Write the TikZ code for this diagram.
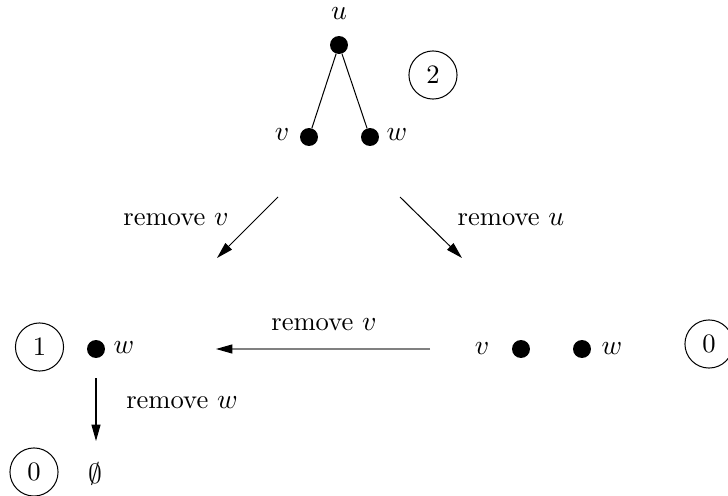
\documentclass[tikz,border=0pt]{standalone}
\usetikzlibrary{arrows.meta}
\begin{document}
\begin{tikzpicture}[x=0.395pt,y=-0.395pt,
  every node/.style={font=\fontsize{10.5pt}{12.5pt}\selectfont},
  vdot/.style={circle,fill=black,inner sep=0pt,minimum size=7.1pt},
  cnt/.style={circle,draw,line width=0.4pt,inner sep=0pt,minimum size=19pt},
  lbl/.style={inner sep=0pt},
  arr/.style={line width=0.4pt,-{Triangle[length=6.5pt,width=3.6pt,color=black]}}]
\useasboundingbox (0,0) rectangle (728,496);
% top graph
\node[vdot] (u) at (339,45) {};
\node[vdot] (v) at (309,137) {};
\node[vdot] (w) at (370,137) {};
\node[lbl] (ul) at (339,14) {$u$};
\node[lbl] (vl) at (282,135) {$v$};
\node[lbl] (wl) at (397,135) {$w$};
\draw[line width=0.4pt] (u) -- (v);
\draw[line width=0.4pt] (u) -- (w);
\node[cnt] (c2) at (433,75) {2};
% diagonal arrows
\coordinate (a1s) at (278,197);
\coordinate (a1e) at (217,258);
\coordinate (a2s) at (400,197);
\coordinate (a2e) at (462,258);
\draw[arr] (a1s) -- (a1e);
\draw[arr] (a2s) -- (a2e);
\node[lbl] (r1) at (176,220) {remove $v$};
\node[lbl] (r2) at (511,220) {remove $u$};
% right state
\node[lbl] (vl2) at (482,349) {$v$};
\node[vdot] (v2) at (521,349) {};
\node[vdot] (w2) at (582,349) {};
\node[lbl] (wl2) at (612,349) {$w$};
\node[cnt] (c0r) at (709,344) {0};
% horizontal arrow
\coordinate (hs) at (430,349);
\coordinate (he) at (216,349);
\draw[arr,draw=gray] (hs) -- (he);
\node[lbl] (r3) at (324,325) {remove $v$};
% left state
\node[cnt] (c1) at (39.5,347) {1};
\node[vdot] (w3) at (96,349) {};
\node[lbl] (wl3) at (124,348) {$w$};
\coordinate (ds) at (96,378);
\coordinate (de) at (96,441);
\draw[arr] (ds) -- (de);
\node[lbl] (r4) at (182,403) {remove $w$};
% empty
\node[cnt] (c0l) at (34,472) {0};
\node[lbl] (emp) at (95,474) {$\emptyset$};
\end{tikzpicture}
\end{document}
